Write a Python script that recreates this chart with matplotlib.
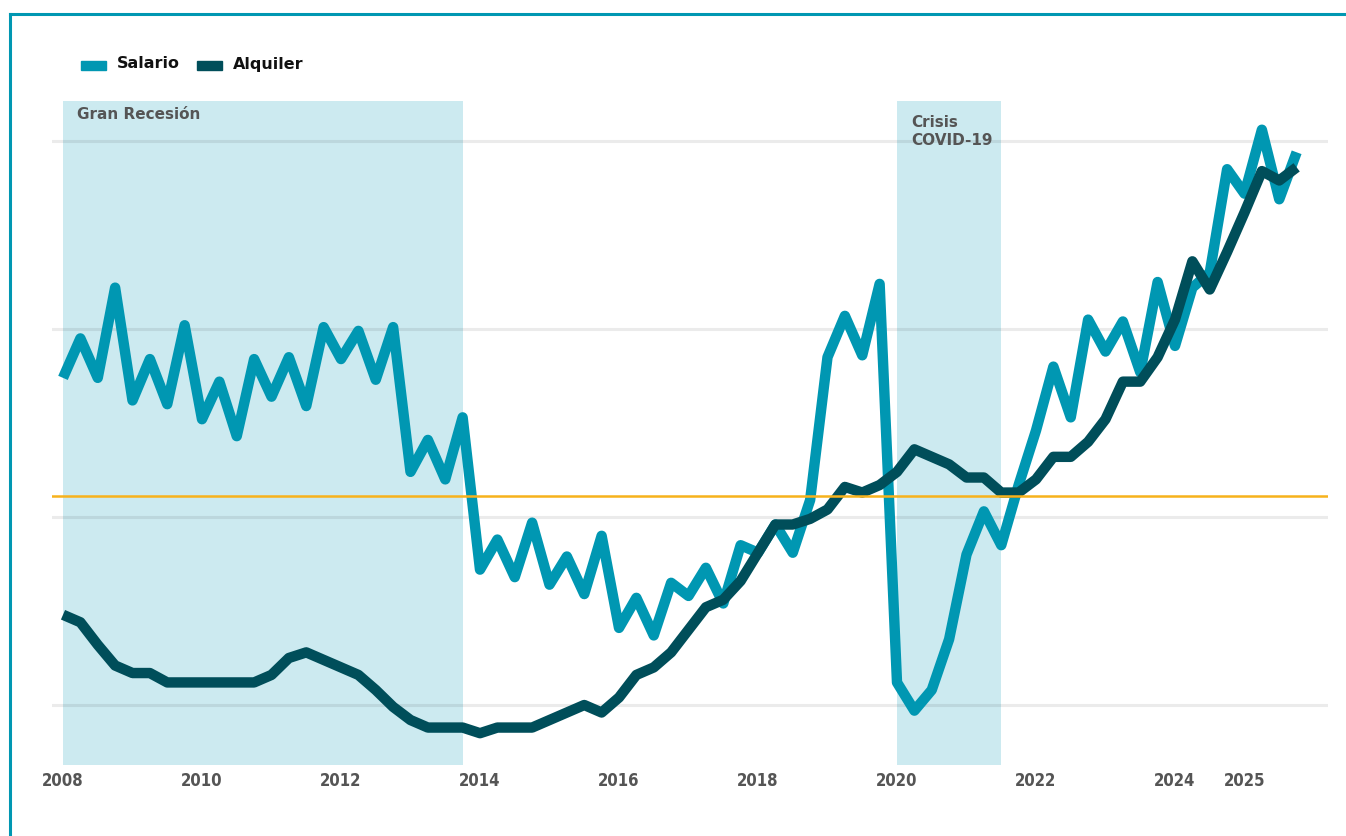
import numpy as np
import matplotlib.pyplot as plt
from matplotlib.patches import Rectangle
from matplotlib.lines import Line2D

# quarterly series, 2008 Q1 .. 2025 Q4
start_year = 2008
salario = [17.4, 19.5, 17.4, 22.2, 16.2, 18.4, 16.0, 20.2, 15.2, 17.2, 14.3, 18.4,
           16.4, 18.5, 15.9, 20.1, 18.4, 19.9, 17.3, 20.1, 12.4, 14.1, 12.0, 15.3,
           7.2, 8.8, 6.8, 9.7, 6.4, 7.9, 5.9, 9.0, 4.1, 5.7, 3.7, 6.5,
           5.8, 7.3, 5.4, 8.5, 8.1, 9.6, 8.1, 10.9, 18.5, 20.7, 18.6, 22.4,
           1.2, -0.3, 0.8, 3.5, 8.0, 10.3, 8.5, 11.7, 14.6, 18.0, 15.3, 20.5,
           18.8, 20.4, 17.7, 22.5, 19.1, 22.2, 23.0, 28.5, 27.2, 30.6, 26.9, 29.4]
alquiler = [4.8, 4.4, 3.2, 2.1, 1.7, 1.7, 1.2, 1.2, 1.2, 1.2, 1.2, 1.2,
            1.6, 2.5, 2.8, 2.4, 2.0, 1.6, 0.8, -0.1, -0.8, -1.2, -1.2, -1.2,
            -1.5, -1.2, -1.2, -1.2, -0.8, -0.4, 0.0, -0.4, 0.4, 1.6, 2.0, 2.8,
            4.0, 5.2, 5.6, 6.6, 8.1, 9.6, 9.6, 9.9, 10.4, 11.6, 11.3, 11.7,
            12.4, 13.6, 13.2, 12.8, 12.1, 12.1, 11.3, 11.3, 12.0, 13.2, 13.2, 14.0,
            15.2, 17.2, 17.2, 18.5, 20.5, 23.6, 22.1, 24.1, 26.2, 28.4, 27.9, 28.6]
reference_level = 11.1
grid_values = [0, 10, 20, 30]
tick_years = [2008, 2010, 2012, 2014, 2016, 2018, 2020, 2022, 2024, 2025]
bands = [(2008.0, 2013.75, 'Gran Recesión', 0.3),
         (2020.0, 2021.5, 'Crisis\nCOVID-19', 0.75)]

C_SAL = '#0097b2'
C_ALQ = '#004e5a'
C_BAND = '#cceaf0'
C_REF = '#f7b21c'
C_TXT = '#555555'

x = start_year + np.arange(len(salario)) / 4.0

W, H = 1346, 836
fig = plt.figure(figsize=(W / 100, H / 100), dpi=100)
ax = fig.add_axes([52 / W, (H - 765) / H, (1328 - 52) / W, (765 - 101) / H])
ax.set_xlim(2008 - 11 / 69.5, 2008 + (1328 - 63) / 69.5)
ax.set_ylim((705 - 765) / 18.8, (705 - 101) / 18.8)

for x0, x1, label, dy in bands:
    ax.axvspan(x0, x1, color=C_BAND, lw=0, zorder=0)
    ax.text(x0 + 0.2, 32.13 - dy, label, fontsize=11, fontweight='bold',
            color=C_TXT, va='top', ha='left', linespacing=1.25, zorder=5)

for g in grid_values:
    ax.axhline(g, color=(0, 0, 0, 0.08), lw=2.2, zorder=1)
ax.axhline(reference_level, color=C_REF, lw=1.8, zorder=4)

ax.plot(x, salario, color=C_SAL, lw=7.5, solid_joinstyle='round',
        solid_capstyle='butt', zorder=2)
ax.plot(x, alquiler, color=C_ALQ, lw=7.5, solid_joinstyle='round',
        solid_capstyle='butt', zorder=3)

for s in ax.spines.values():
    s.set_visible(False)
ax.set_yticks([])
ax.set_xticks(tick_years)
ax.set_xticklabels([str(t) for t in tick_years], fontsize=12, fontweight='bold',
                   color=C_TXT, fontstretch='condensed')
ax.tick_params(axis='x', length=0, pad=5)

# legend drawn in figure pixels
def fx(px):
    return px / W

def fy(py):
    return 1 - py / H

for x0, col, name in [(81, C_SAL, 'Salario'), (197, C_ALQ, 'Alquiler')]:
    fig.patches.append(Rectangle((fx(x0), fy(70)), 25 / W, 9 / H, color=col,
                                 transform=fig.transFigure))
    fig.text(fx(x0 + 36), fy(64), name, fontsize=11.5, fontweight='bold',
             color='#111111', va='center', ha='left')

# frame
fig.add_artist(Line2D([fx(10), fx(10)], [fy(14), 0], color=C_SAL, lw=2.2,
                      transform=fig.transFigure))
fig.add_artist(Line2D([fx(10), 1], [fy(14), fy(14)], color=C_SAL, lw=2.2,
                      transform=fig.transFigure))

fig.savefig('out.png', dpi=100)
